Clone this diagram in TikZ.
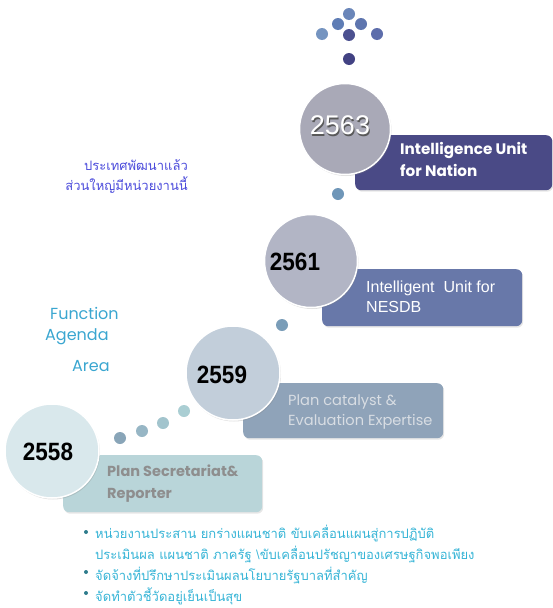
\documentclass[tikz,border=0pt]{standalone}
\usepackage{fontspec}
\setmainfont{Liberation Sans}
\newfontfamily\thaifont[Script=Thai]{Loma}
\newfontfamily\gothic{Poppins}
\usetikzlibrary{shadows}
\definecolor{c63}{HTML}{A9A9B7}
\definecolor{c61}{HTML}{B2B5C5}
\definecolor{c59}{HTML}{C2CEDA}
\definecolor{c58}{HTML}{D9E8EC}
\definecolor{b63}{HTML}{4A4A86}
\definecolor{b61}{HTML}{6878A9}
\definecolor{b59}{HTML}{8FA3B9}
\definecolor{b58}{HTML}{B9D5D9}
\definecolor{thaiblue}{HTML}{4B4BDB}
\definecolor{funcblue}{HTML}{3AA6D0}
\definecolor{cyantext}{HTML}{36B4D6}
\definecolor{bulletc}{HTML}{2E7C8C}
\definecolor{t59c}{HTML}{D8DDE3}
\definecolor{t58c}{HTML}{8E8E8E}
\definecolor{k1c}{HTML}{6A86B9}
\definecolor{k2c}{HTML}{5F7DB5}
\definecolor{k3c}{HTML}{5E75AE}
\definecolor{k4c}{HTML}{7594C0}
\definecolor{k5c}{HTML}{4C5190}
\definecolor{k6c}{HTML}{5D6DAB}
\definecolor{k7c}{HTML}{424283}
\definecolor{d1c}{HTML}{6F96B8}
\definecolor{d2c}{HTML}{7A9DB8}
\definecolor{d3c}{HTML}{AACED3}
\definecolor{d4c}{HTML}{A2C4CD}
\definecolor{d5c}{HTML}{97B6C5}
\definecolor{d6c}{HTML}{89A5B8}
\begin{document}
\begin{tikzpicture}[x=1pt,y=-1pt,
  yearcirc/.style={circle, draw=white, line width=1.5pt, minimum size=#1, inner sep=0pt,
    drop shadow={opacity=0.25, shadow xshift=1pt, shadow yshift=-1.5pt}},
  tagbox/.style={rounded corners=6pt, inner sep=0pt, anchor=north west,
    drop shadow={opacity=0.2, shadow xshift=1pt, shadow yshift=-1.5pt}},
  dot/.style={circle, inner sep=0pt, minimum size=12pt, fill=#1},
  bul/.style={circle, inner sep=0pt, minimum size=4pt, fill=bulletc},
  yearnum/.style={font=\bfseries\fontsize{25}{25}\selectfont, text=black, inner sep=0pt},
  boxtxt/.style={anchor=west, align=left, inner sep=0pt},
  thailine/.style={anchor=west, inner sep=0pt, text=cyantext, font=\thaifont\fontsize{13}{13}\selectfont},
  functxt/.style={anchor=west, inner sep=0pt, text=funcblue, font=\gothic\fontsize{16}{16}\selectfont}
]
\useasboundingbox (0,0) rectangle (553,608);

% top dot cluster
\node[dot=k1c] (k1) at (349,14) {};
\node[dot=k2c] (k2) at (338,24) {};
\node[dot=k3c] (k3) at (361,24) {};
\node[dot=k4c] (k4) at (322,34) {};
\node[dot=k5c] (k5) at (349,35) {};
\node[dot=k6c] (k6) at (377,34) {};
\node[dot=k7c] (k7) at (349,59) {};

% connecting dots
\node[dot=d1c] (d1) at (338,194) {};
\node[dot=d2c] (d2) at (282,325) {};
\node[dot=d3c] (d3) at (184,411) {};
\node[dot=d4c] (d4) at (163,423) {};
\node[dot=d5c] (d5) at (142,431) {};
\node[dot=d6c] (d6) at (120,438) {};

% boxes
\node[tagbox, fill=b63, minimum width=197pt, minimum height=55pt] (box63) at (355,135) {};
\node[tagbox, fill=b61, minimum width=200pt, minimum height=57pt] (box61) at (322,269) {};
\node[tagbox, fill=b59, minimum width=200pt, minimum height=55pt] (box59) at (243,383) {};
\node[tagbox, fill=b58, minimum width=199pt, minimum height=57pt] (box58) at (63,455) {};

% circles
\node[yearcirc=91pt, fill=c63] (c2563) at (345,129) {};
\node[yearcirc=93pt, fill=c61] (c2561) at (311,261) {};
\node[yearcirc=94pt, fill=c59] (c2559) at (233,373) {};
\node[yearcirc=94pt, fill=c58] (c2558) at (52,451) {};

% year numbers
\node[inner sep=0pt, text=gray!70!black, font=\fontsize{27}{27}\selectfont] (n63s) at (341,127) {2563};
\node[inner sep=0pt, text=white, font=\fontsize{27}{27}\selectfont] (n63) at (340,125.5) {2563};
\node[yearnum] (n61) at (295,262) {\scalebox{0.9}[1]{2561}};
\node[yearnum] (n59) at (222,375) {\scalebox{0.9}[1]{2559}};
\node[yearnum] (n58) at (48,452) {\scalebox{0.9}[1]{2558}};

% box texts
\node[boxtxt, text=white, font=\gothic\bfseries\fontsize{15.2}{22}\selectfont] (t63) at (400,159) {Intelligence Unit\\for Nation};
\node[boxtxt, text=white, font=\fontsize{16}{20}\selectfont] (t61) at (366,297) {Intelligent~ Unit for\\NESDB};
\node[boxtxt, text=t59c, font=\gothic\fontsize{14.6}{20}\selectfont] (t59) at (288,412) {Plan catalyst \&\\Evaluation Expertise};
\node[boxtxt, text=t58c, font=\gothic\bfseries\fontsize{14.5}{22}\selectfont] (t58) at (107,484) {Plan Secretariat\&\\Reporter};

% Thai header
\node[anchor=east, align=right, inner sep=0pt, text=thaiblue, font=\thaifont\fontsize{13}{20}\selectfont] (thaihead) at (188,177) {ประเทศพัฒนาแล้ว\\ส่วนใหญ่มีหน่วยงานนี้};

% Function Agenda Area
\node[functxt] (fn) at (50,313) {Function};
\node[functxt] (ag) at (45,337) {Agenda};
\node[functxt] (ar) at (72,366) {Area};

% bottom bullets
\node[bul] (b1) at (86,532) {};
\node[bul] (b2) at (86,572) {};
\node[bul] (b3) at (86,593) {};
\node[thailine] (l1) at (95,534) {หน่วยงานประสาน ยกร่างแผนชาติ ขับเคลื่อนแผนสู่การปฏิบัติ};
\node[thailine] (l2) at (95,554) {ประเมินผล แผนชาติ ภาครัฐ \textbackslash ขับเคลื่อนปรัชญาของเศรษฐกิจพอเพียง};
\node[thailine] (l3) at (95,575) {จัดจ้างที่ปรึกษาประเมินผลนโยบายรัฐบาลที่สำคัญ};
\node[thailine] (l4) at (95,596) {จัดทำตัวชี้วัดอยู่เย็นเป็นสุข};
\end{tikzpicture}
\end{document}
